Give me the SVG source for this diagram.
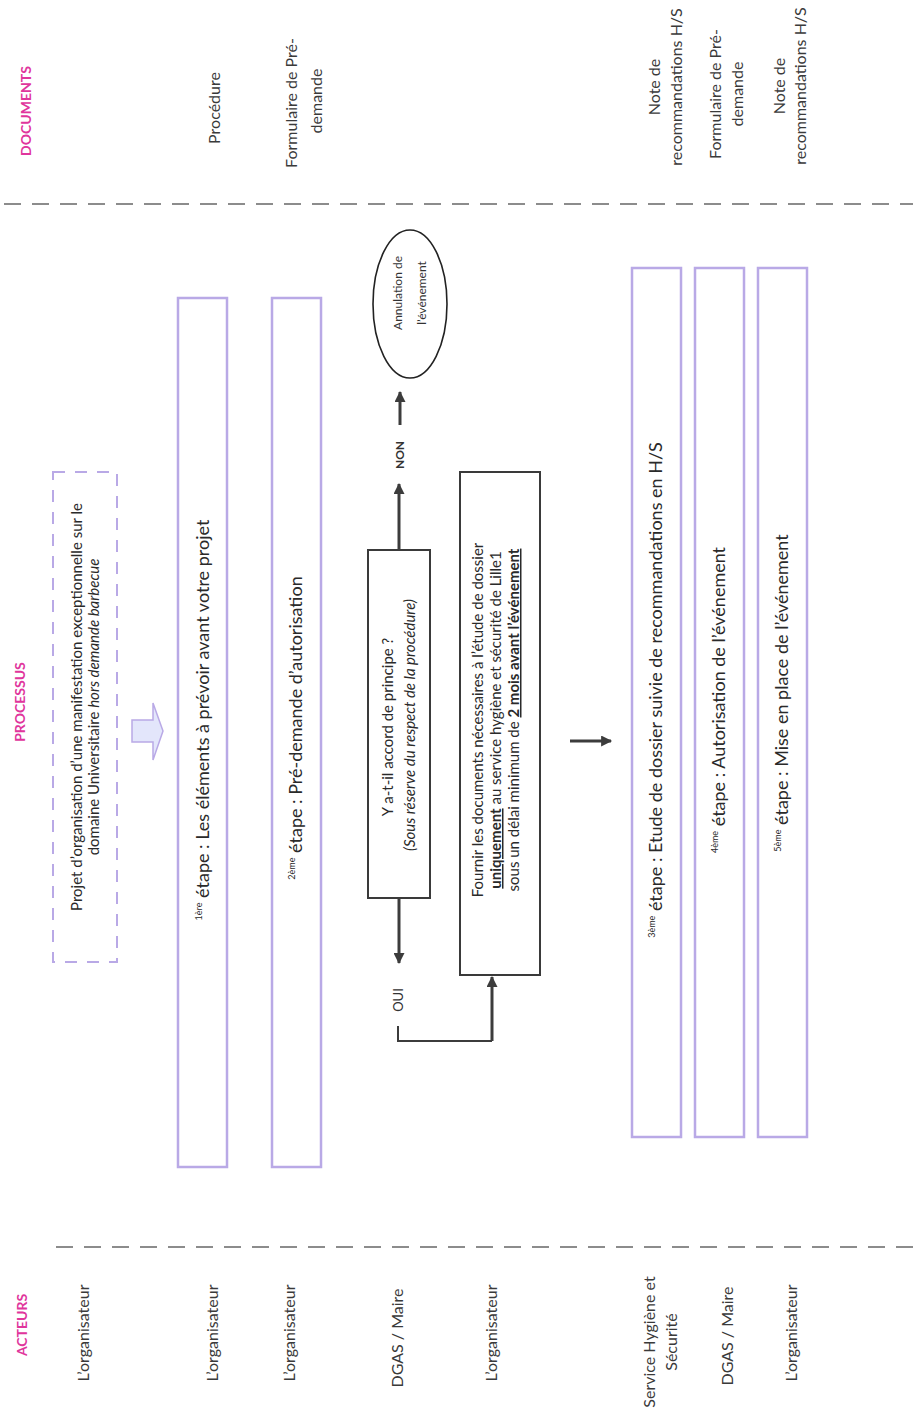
<svg xmlns="http://www.w3.org/2000/svg" width="913" height="1412" viewBox="0 0 913 1412">
<defs>
<style>
text{font-family:Lato,"Open Sans","Liberation Sans",sans-serif;fill:#333;}
.hdr{font-size:14px;font-weight:bold;fill:#e0359c;}
.lbl{font-size:16px;fill:#3a3a3a;}
.step{font-size:18px;fill:#2a2a2a;}
.sup{font-size:9px;}
.body{font-size:15px;fill:#2a2a2a;}
.small{font-size:12px;fill:#333;}
.sep{stroke:#8c8c8c;stroke-width:2;stroke-dasharray:17 11;fill:none;}
.lav{fill:none;stroke:#b9a9e6;stroke-width:2.5;}
.blk{fill:#fff;stroke:#3a3a3a;stroke-width:2;}
.con{stroke:#3c3c3c;stroke-width:3;fill:none;}
</style>
<marker id="ah" viewBox="0 0 10 10" refX="9" refY="5" markerWidth="12" markerHeight="11" markerUnits="userSpaceOnUse" orient="auto">
<path d="M0,0 L10,5 L0,10 z" fill="#3c3c3c"/>
</marker>
</defs>
<rect width="913" height="1412" fill="#fff"/>

<g id="separators">
<line class="sep" x1="4" y1="204" x2="913" y2="204"/>
<line class="sep" x1="56" y1="1247" x2="913" y2="1247"/>
</g>

<g id="headers">
<text class="hdr" text-anchor="middle" transform="translate(31 111) rotate(-90)">DOCUMENTS</text>
<text class="hdr" text-anchor="middle" transform="translate(25 702) rotate(-90)">PROCESSUS</text>
<text class="hdr" text-anchor="middle" transform="translate(27 1325) rotate(-90)">ACTEURS</text>
</g>

<g id="documents">
<text class="lbl" text-anchor="middle" transform="translate(219.5 108) rotate(-90)">Procédure</text>
<text class="lbl" text-anchor="middle" transform="translate(296.5 103) rotate(-90)">Formulaire de Pré-</text>
<text class="lbl" text-anchor="middle" transform="translate(321.5 101) rotate(-90)">demande</text>
<text class="lbl" text-anchor="middle" transform="translate(659.5 87) rotate(-90)">Note de</text>
<text class="lbl" text-anchor="middle" transform="translate(681.5 87) rotate(-90)">recommandations H/S</text>
<text class="lbl" text-anchor="middle" transform="translate(720.5 94) rotate(-90)">Formulaire de Pré-</text>
<text class="lbl" text-anchor="middle" transform="translate(742.5 94) rotate(-90)">demande</text>
<text class="lbl" text-anchor="middle" transform="translate(784.5 86) rotate(-90)">Note de</text>
<text class="lbl" text-anchor="middle" transform="translate(805.5 86) rotate(-90)">recommandations H/S</text>
</g>

<g id="actors">
<text class="lbl" text-anchor="middle" transform="translate(88.5 1333) rotate(-90)">L’organisateur</text>
<text class="lbl" text-anchor="middle" transform="translate(217.5 1333) rotate(-90)">L’organisateur</text>
<text class="lbl" text-anchor="middle" transform="translate(294.5 1333) rotate(-90)">L’organisateur</text>
<text class="lbl" text-anchor="middle" transform="translate(402.5 1338) rotate(-90)">DGAS / Maire</text>
<text class="lbl" text-anchor="middle" transform="translate(496.5 1333) rotate(-90)">L’organisateur</text>
<text class="lbl" text-anchor="middle" transform="translate(654.5 1342) rotate(-90)">Service Hygiène et</text>
<text class="lbl" text-anchor="middle" transform="translate(676.5 1342) rotate(-90)">Sécurité</text>
<text class="lbl" text-anchor="middle" transform="translate(732.5 1336) rotate(-90)">DGAS / Maire</text>
<text class="lbl" text-anchor="middle" transform="translate(796.5 1333) rotate(-90)">L’organisateur</text>
</g>

<g id="node-projet">
<rect x="53" y="472" width="64" height="490" fill="none" stroke="#b9a9e6" stroke-width="2" stroke-dasharray="12 10"/>
<text class="body" text-anchor="middle" transform="translate(82 707) rotate(-90)">Projet d’organisation d’une manifestation exceptionnelle sur le</text>
<text class="body" text-anchor="middle" transform="translate(99 707) rotate(-90)">domaine Universitaire <tspan font-style="italic">hors demande barbecue</tspan></text>
</g>

<g id="node-fleche">
<polygon points="132,720 153,720 153,703 163,731 153,760 153,742 132,742" fill="#e3e6fb" stroke="#b9a9e6" stroke-width="1.5"/>
</g>

<g id="node-etape1">
<rect class="lav" x="178" y="298" width="49" height="869"/>
<text class="step" text-anchor="middle" transform="translate(209 720) rotate(-90)"><tspan class="sup" dy="-7">1ère</tspan><tspan dy="7"> étape : Les éléments à prévoir avant votre projet</tspan></text>
</g>

<g id="node-etape2">
<rect class="lav" x="272" y="298" width="49" height="869"/>
<text class="step" text-anchor="middle" transform="translate(302 728) rotate(-90)"><tspan class="sup" dy="-7">2ème</tspan><tspan dy="7"> étape : Pré-demande d’autorisation</tspan></text>
</g>

<g id="node-decision">
<rect class="blk" x="368" y="550" width="62" height="348"/>
<text class="body" text-anchor="middle" transform="translate(393 727) rotate(-90)">Y a-t-il accord de principe ?</text>
<text class="body" font-style="italic" text-anchor="middle" transform="translate(415 725) rotate(-90)">(Sous réserve du respect de la procédure)</text>
</g>

<g id="node-annulation">
<ellipse cx="410" cy="304" rx="37" ry="74" fill="#fff" stroke="#222" stroke-width="1.6"/>
<text class="small" text-anchor="middle" transform="translate(402 293) rotate(-90)">Annulation de</text>
<text class="small" text-anchor="middle" transform="translate(426 293) rotate(-90)">l’événement</text>
</g>

<g id="node-fournir">
<rect class="blk" x="460" y="472" width="80" height="503"/>
<text class="body" text-anchor="middle" transform="translate(483 720) rotate(-90)">Fournir les documents nécessaires à l’étude de dossier</text>
<text class="body" text-anchor="middle" transform="translate(501 720) rotate(-90)"><tspan font-weight="bold" text-decoration="underline">uniquement</tspan> au service hygiène et sécurité de Lille1</text>
<text class="body" text-anchor="middle" transform="translate(519 720) rotate(-90)">sous un délai minimum de <tspan font-weight="bold" text-decoration="underline">2 mois avant l’événement</tspan></text>
</g>

<g id="node-etape3">
<rect class="lav" x="632" y="268" width="49" height="869"/>
<text class="step" text-anchor="middle" transform="translate(662 690) rotate(-90)"><tspan class="sup" dy="-7">3ème</tspan><tspan dy="7"> étape : Etude de dossier suivie de recommandations en H/S</tspan></text>
</g>

<g id="node-etape4">
<rect class="lav" x="695" y="268" width="49" height="869"/>
<text class="step" text-anchor="middle" transform="translate(725 700) rotate(-90)"><tspan class="sup" dy="-7">4ème</tspan><tspan dy="7"> étape : Autorisation de l’événement</tspan></text>
</g>

<g id="node-etape5">
<rect class="lav" x="758" y="268" width="49" height="869"/>
<text class="step" text-anchor="middle" transform="translate(788 693) rotate(-90)"><tspan class="sup" dy="-7">5ème</tspan><tspan dy="7"> étape : Mise en place de l’événement</tspan></text>
</g>

<g id="connectors">
<line class="con" x1="399" y1="550" x2="399" y2="484" marker-end="url(#ah)"/>
<text font-size="12" font-weight="bold" text-anchor="middle" transform="translate(404 455) rotate(-90)">NON</text>
<line class="con" x1="400" y1="425" x2="400" y2="392" marker-end="url(#ah)"/>
<line class="con" x1="399" y1="898" x2="399" y2="963" marker-end="url(#ah)"/>
<text font-size="13" text-anchor="middle" transform="translate(403 1000) rotate(-90)">OUI</text>
<polyline points="398,1026 398,1041 492,1041" fill="none" stroke="#3c3c3c" stroke-width="2"/>
<line class="con" x1="492" y1="1041" x2="492" y2="977" marker-end="url(#ah)"/>
<line class="con" x1="570" y1="741" x2="611" y2="741" marker-end="url(#ah)"/>
</g>
</svg>
